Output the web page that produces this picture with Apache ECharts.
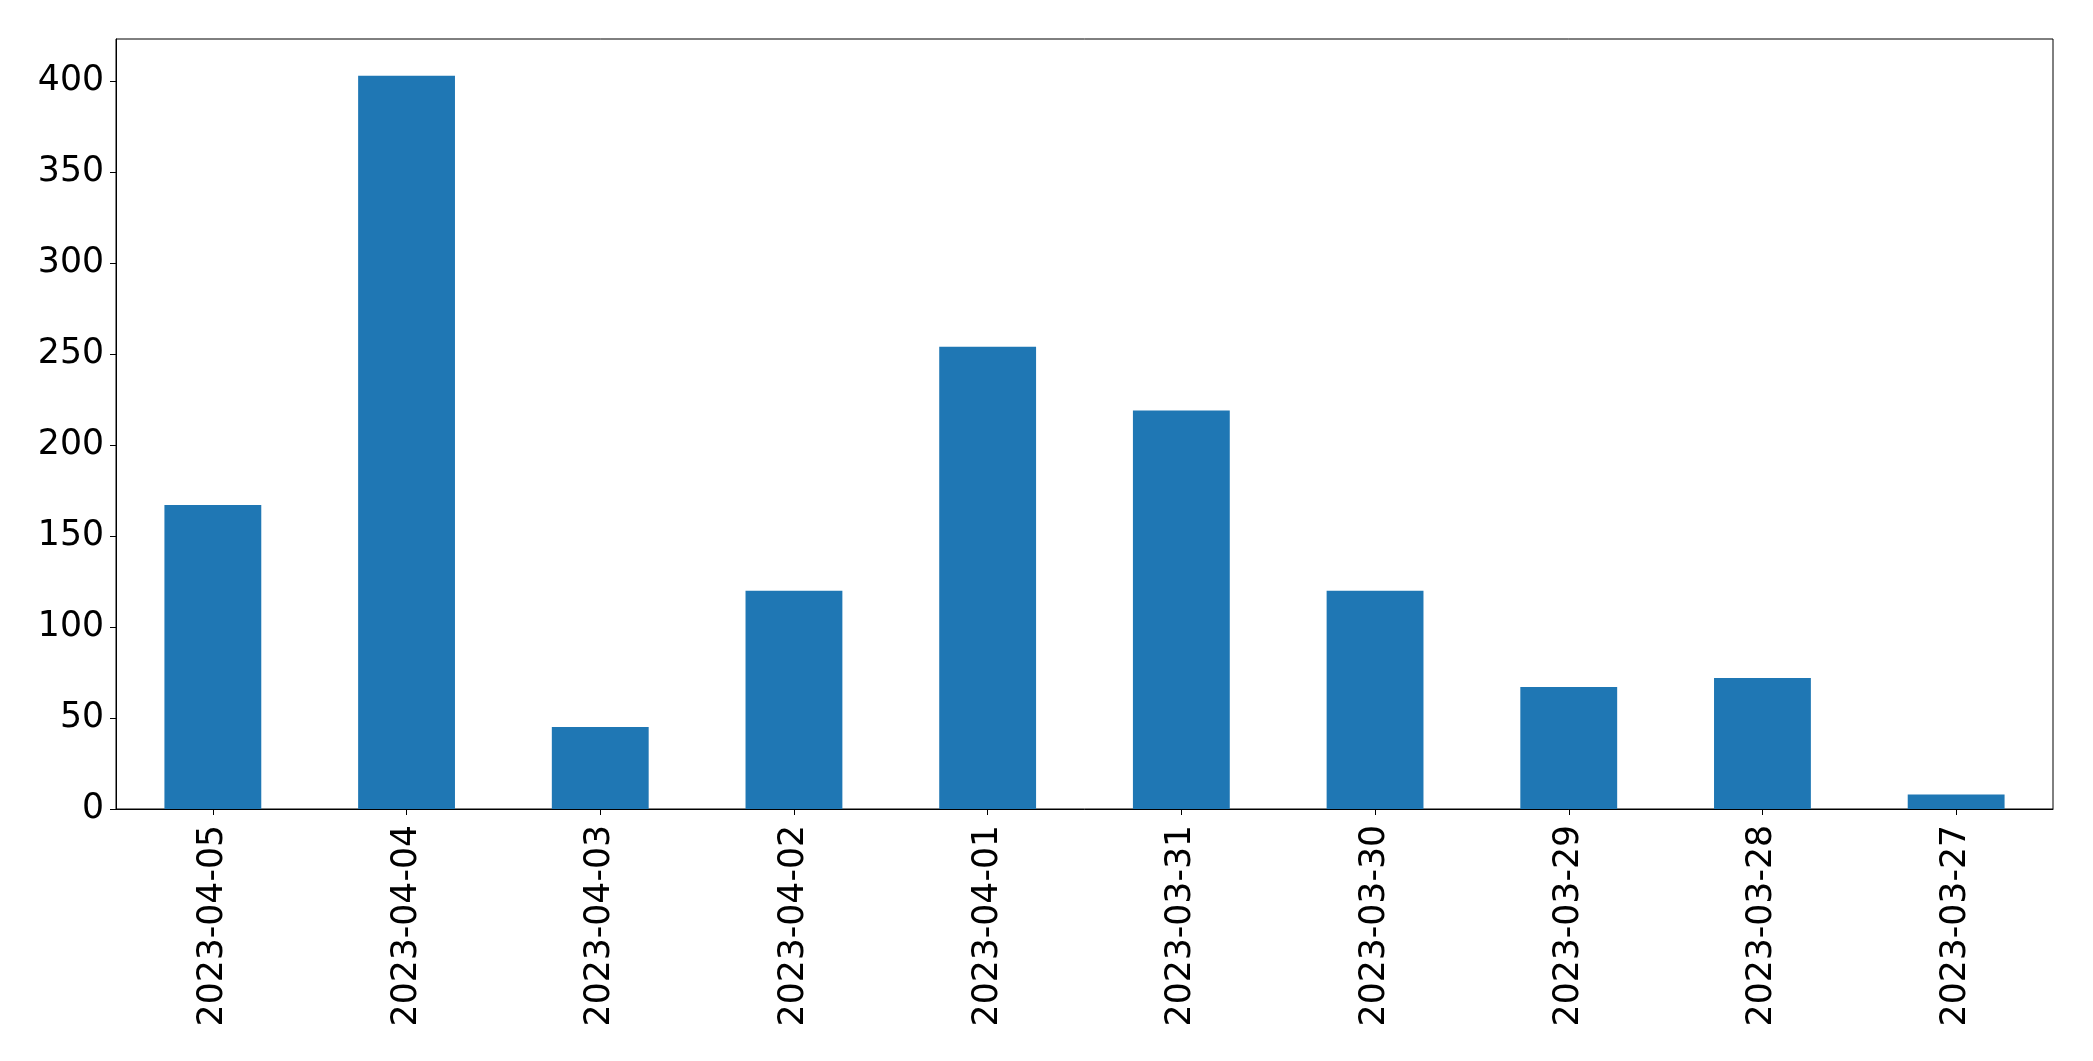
<!DOCTYPE html>
<html>
<head>
<meta charset="utf-8">
<script src="https://cdn.jsdelivr.net/npm/echarts@6/dist/echarts.min.js"></script>
<style>
html,body{margin:0;padding:0;background:#fff;}
#chart{width:2093px;height:1061px;}
</style>
</head>
<body>
<div id="chart"></div>
<script>
const categories = ['2023-04-05','2023-04-04','2023-04-03','2023-04-02','2023-04-01','2023-03-31','2023-03-30','2023-03-29','2023-03-28','2023-03-27'];
const values = [167, 403, 45, 120, 254, 219, 120, 67, 72, 8];
const yTicks = [0, 50, 100, 150, 200, 250, 300, 350, 400];

const yMax = Math.max(...values) * 1.05;
const font = 'DejaVu Sans';

const chart = echarts.init(document.getElementById('chart'), null, {renderer: 'canvas'});
chart.setOption({
  animation: false,
  backgroundColor: '#ffffff',
  grid: {
    left: 116, right: 40, top: 39, bottom: 252,
    show: true, borderColor: '#000', borderWidth: 1, backgroundColor: 'transparent',
    containLabel: false
  },
  xAxis: {
    type: 'category',
    data: categories,
    boundaryGap: true,
    axisLine: {show: true, lineStyle: {color: '#000', width: 1}},
    axisTick: {show: true, alignWithLabel: true, length: 6, lineStyle: {color: '#000', width: 1}},
    axisLabel: {
      rotate: 90, color: '#000', fontFamily: font, fontSize: 34.67, margin: 16, interval: 0
    },
    splitLine: {show: false}
  },
  yAxis: {
    type: 'value',
    min: 0,
    max: yMax,
    interval: 50,
    axisLine: {show: true, lineStyle: {color: '#000', width: 1}},
    axisTick: {show: true, length: 6, lineStyle: {color: '#000', width: 1}},
    axisLabel: {
      color: '#000', fontFamily: font, fontSize: 34.67, margin: 12,
      showMaxLabel: false,
      formatter: function (v) { return yTicks.indexOf(v) >= 0 ? String(v) : ''; }
    },
    splitLine: {show: false}
  },
  series: [{
    type: 'bar',
    data: values,
    barWidth: '50%',
    itemStyle: {color: '#1f77b4'}
  }]
});
</script>
</body>
</html>
